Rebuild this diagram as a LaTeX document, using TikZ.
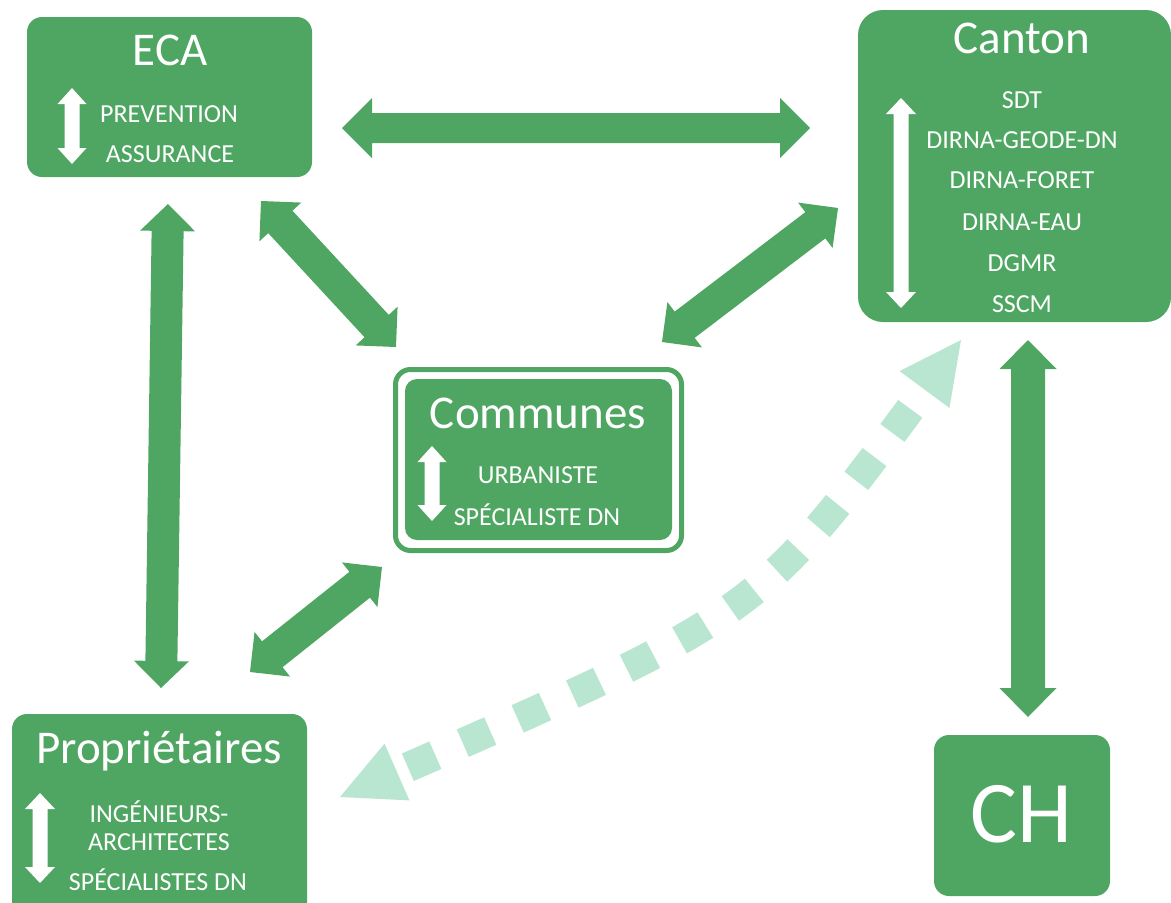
\documentclass[tikz,border=0pt]{standalone}
\usepackage{fontspec}
\setmainfont{Carlito}
\usetikzlibrary{calc}
\definecolor{boxgreen}{HTML}{4EA662}
\definecolor{lightgreen}{HTML}{B9E6D0}
% double-headed block arrow: #1 colour, #2 tip A, #3 tip B, #4 shaft half width, #5 head half width, #6 head length
\newcommand{\dblarrow}[6]{%
  \fill[#1] (#2)
   -- ($(#2)!#6!(#3)!#5!90:(#3)$)
   -- ($(#2)!#6!(#3)!#4!90:(#3)$)
   -- ($(#3)!#6!(#2)!#4!-90:(#2)$)
   -- ($(#3)!#6!(#2)!#5!-90:(#2)$)
   -- (#3)
   -- ($(#3)!#6!(#2)!#5!90:(#2)$)
   -- ($(#3)!#6!(#2)!#4!90:(#2)$)
   -- ($(#2)!#6!(#3)!#4!-90:(#3)$)
   -- ($(#2)!#6!(#3)!#5!-90:(#3)$)
   -- cycle;}
\begin{document}
\begin{tikzpicture}[x=1pt,y=-1pt,
  box/.style={fill=boxgreen, draw=none, rectangle, inner sep=0pt},
  lbl/.style={text=white, anchor=base, inner sep=0pt},
  ttl/.style={lbl, font=\fontsize{47}{52}\selectfont},
  itm/.style={lbl, font=\fontsize{26}{30}\selectfont}]
\useasboundingbox (0,0) rectangle (1171,903);

% boxes
\node[box, rounded corners=15pt, minimum width=285pt, minimum height=160pt] (eca) at (169.5,97) {};
\node[box, rounded corners=25pt, minimum width=313pt, minimum height=312pt] (canton) at (1014.5,166) {};
\node[draw=boxgreen, line width=5pt, rounded corners=15pt, minimum width=286pt, minimum height=181pt, inner sep=0pt] (comOuter) at (538.5,460) {};
\node[box, rounded corners=12pt, minimum width=267pt, minimum height=161pt] (communes) at (538.5,459.5) {};
\node[box, rounded corners=15pt, minimum width=295pt, minimum height=210pt] (prop) at (159.5,819) {};
\node[box, rounded corners=15pt, minimum width=176pt, minimum height=161pt] (ch) at (1022,815.5) {};

% texts
\node[ttl] (ecaT) at (170,65) {ECA};
\node[itm] (ecaA) at (169,122) {PREVENTION};
\node[itm] (ecaB) at (170,162) {ASSURANCE};

\node[ttl] (cantonT) at (1022,53) {Canton};
\node[itm] (c1) at (1022,108) {SDT};
\node[itm] (c2) at (1022,148) {DIRNA-GEODE-DN};
\node[itm] (c3) at (1022,188) {DIRNA-FORET};
\node[itm] (c4) at (1022,230) {DIRNA-EAU};
\node[itm] (c5) at (1022,271) {DGMR};
\node[itm] (c6) at (1022,312) {SSCM};

\node[ttl] (comT) at (538,428) {Communes};
\node[itm] (comA) at (538,483) {URBANISTE};
\node[itm] (comB) at (537,525) {SPÉCIALISTE DN};

\node[ttl] (propT) at (159,763) {Propriétaires};
\node[itm] (propA) at (159,822) {INGÉNIEURS-};
\node[itm] (propB) at (159,850) {ARCHITECTES};
\node[itm] (propC) at (158,890) {SPÉCIALISTES DN};

\node[lbl, font=\fontsize{88}{96}\selectfont] (chT) at (1021,842) {CH};

% white arrows inside boxes
\coordinate (ew1) at (72,88);  \coordinate (ew2) at (72,164);
\coordinate (cw1) at (901,98); \coordinate (cw2) at (901,308);
\coordinate (mw1) at (432,446); \coordinate (mw2) at (432,521);
\coordinate (pw1) at (40,793); \coordinate (pw2) at (40,883);
\dblarrow{white}{ew1}{ew2}{7.5pt}{14.5pt}{16pt}
\dblarrow{white}{cw1}{cw2}{7.5pt}{15pt}{16pt}
\dblarrow{white}{mw1}{mw2}{7.5pt}{14.5pt}{16pt}
\dblarrow{white}{pw1}{pw2}{7.5pt}{15pt}{16pt}

% green connectors
\coordinate (ecaE) at (342,128);  \coordinate (cantonW) at (810,128);
\coordinate (cantonS) at (1028,340); \coordinate (chN) at (1028,717);
\coordinate (ecaS) at (168,204);  \coordinate (propN) at (161,688);
\coordinate (ecaSE) at (261,201); \coordinate (comNW) at (396,347);
\coordinate (cantonSW) at (838,208); \coordinate (comNE) at (662,342);
\coordinate (comSW) at (382,567); \coordinate (propNE) at (250,672);
\dblarrow{boxgreen}{ecaE}{cantonW}{15pt}{30pt}{30pt}
\dblarrow{boxgreen}{cantonS}{chN}{17pt}{28.5pt}{29pt}
\dblarrow{boxgreen}{ecaS}{propN}{16pt}{27.5pt}{27pt}
\dblarrow{boxgreen}{ecaSE}{comNW}{16.5pt}{28.5pt}{28.5pt}
\dblarrow{boxgreen}{cantonSW}{comNE}{16.5pt}{28.5pt}{28.5pt}
\dblarrow{boxgreen}{comSW}{propNE}{16.5pt}{28.5pt}{28.5pt}

% dashed light connector Canton -- Propriétaires
\coordinate (dT1) at (961,340); \coordinate (dB1) at (924.5,389.5);
\coordinate (dT2) at (340,797); \coordinate (dB2) at (397,772);
\draw[lightgreen, line width=30pt, dash pattern=on 30pt off 30pt, dash phase=36pt]
  (dB1) .. controls (760,613) and (760,613) .. (dB2);
\fill[lightgreen] (dT1) -- ($(dB1)!31pt!90:(dT1)$) -- ($(dB1)!31pt!-90:(dT1)$) -- cycle;
\fill[lightgreen] (dT2) -- ($(dB2)!31pt!90:(dT2)$) -- ($(dB2)!31pt!-90:(dT2)$) -- cycle;
\end{tikzpicture}
\end{document}
